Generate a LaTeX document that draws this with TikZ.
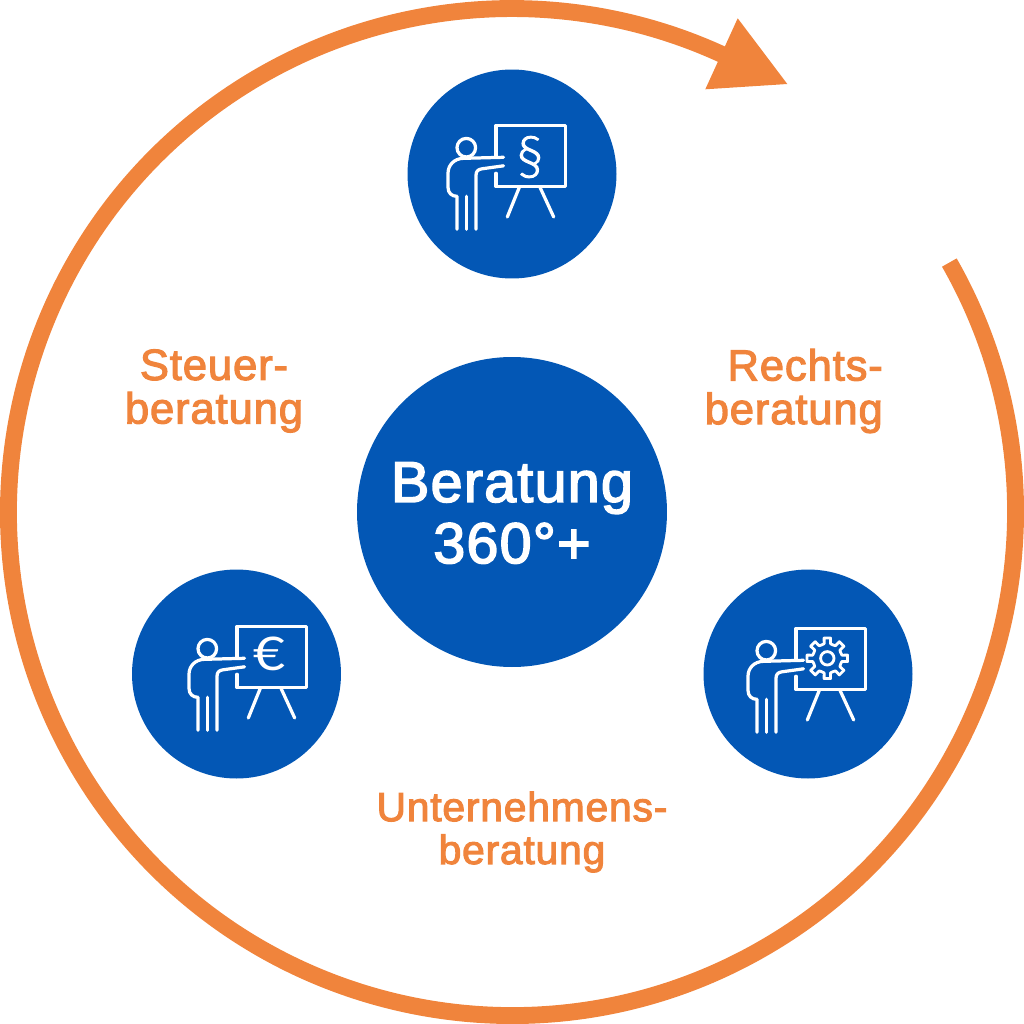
\documentclass[tikz,border=0pt]{standalone}
\usepackage{fontspec}
\setmainfont{Liberation Sans}[FakeBold=2.6,LetterSpace=2]
\newfontfamily\glyphfont{Lato Light}[FakeBold=2]
\newfontfamily\euroglyph{Lato}[FakeStretch=1.2]
\definecolor{ringorange}{HTML}{F0843C}
\definecolor{discblue}{HTML}{0357B5}
\tikzset{
  x=0.05cm,y=0.05cm,
  ring/.style={draw=ringorange,line width=24pt},
  disc/.style={circle,fill=discblue,draw=none,inner sep=0pt,minimum size=#1},
  discsmall/.style={disc=10.45cm},
  ringlabel/.style={text=ringorange,font=\fontsize{62}{62}\selectfont,align=center,inner sep=0pt},
  bottomlabel/.style={ringlabel,font=\fontsize{58}{61}\selectfont},
  centerlabel/.style={text=white,font=\fontsize{82}{87}\selectfont,align=center,inner sep=0pt},
  iconline/.style={draw=white,line width=4.6pt,line cap=round,line join=round},
  iconglyph/.style={text=white,inner sep=0pt},
  presenter/.pic={
    % origin: top-left corner of the board
    \draw[iconline] (0,-32) -- (0,0) -- (69.7,0) -- (69.7,-61.4) -- (0,-61.4) -- (0,-48);
    \draw[iconline] (23.3,-62) -- (11.3,-91.7);
    \draw[iconline] (44,-62) -- (57.7,-91.7);
    \draw[iconline] (-29.7,-22.4) circle (9.3);
    \draw[iconline] (7.5,-32) -- (-32,-33) .. controls (-42,-33) and (-48,-40) .. (-48,-48) -- (-48,-62) .. controls (-48,-68) and (-44,-71) .. (-39,-71) -- (-39,-104);
    \draw[iconline] (7.5,-40.5) -- (-14,-43.5) .. controls (-18,-44) and (-20,-46) .. (-20,-50) -- (-20,-104);
    \draw[iconline] (-29.7,-71) -- (-29.7,-104);
  }
}
\begin{document}
\begin{tikzpicture}
\useasboundingbox (0,0) rectangle (1024,-1024);
\coordinate (ringc) at (512,-512);
\draw[ring] (ringc) ++(29.7:503.5) arc[start angle=29.7,end angle=-295.2,radius=503.5];
\coordinate (tipa) at (737.7,-18.3);
\coordinate (tipb) at (787.3,-84);
\coordinate (tipc) at (705.3,-89.3);
\fill[ringorange] (tipa) -- (tipb) -- (tipc) -- cycle;
\node[disc=15.5cm] (hub) at (512,-512) {};
\node[discsmall] (law) at (512,-174) {};
\node[discsmall] (tax) at (236.5,-674) {};
\node[discsmall] (biz) at (808,-674) {};
\node[centerlabel] (hubtext) at (512,-513) {Beratung\\360°+};
\node[ringlabel,align=right,anchor=east] (lawtext) at (883,-391) {Rechts-\\beratung};
\node[ringlabel] (taxtext) at (214,-391) {Steuer-\\beratung};
\node[bottomlabel] (biztext) at (522,-832) {Unternehmens-\\beratung};
\pic at (496,-125.3) {presenter};
\pic at (237,-626.3) {presenter};
\pic at (796,-628.3) {presenter};
\node[iconglyph,font=\glyphfont\fontsize{76}{76}\selectfont] (para) at (530,-157) {§};
\node[iconglyph,font=\euroglyph\fontsize{66}{66}\selectfont] (euro) at (269.3,-654) {€};
\begin{scope}[shift={(827.3,-658.3)}]
\draw[iconline,line width=4pt] (0,0) circle (6.7);
\draw[iconline,line width=4pt]
 \foreach \a in {0,45,...,315}{
   (\a-22.5:14.5) -- (\a-12:15) -- (\a-9:20.5) -- (\a+9:20.5) -- (\a+12:15) -- (\a+22.5:14.5)
 };
\end{scope}
\end{tikzpicture}
\end{document}
